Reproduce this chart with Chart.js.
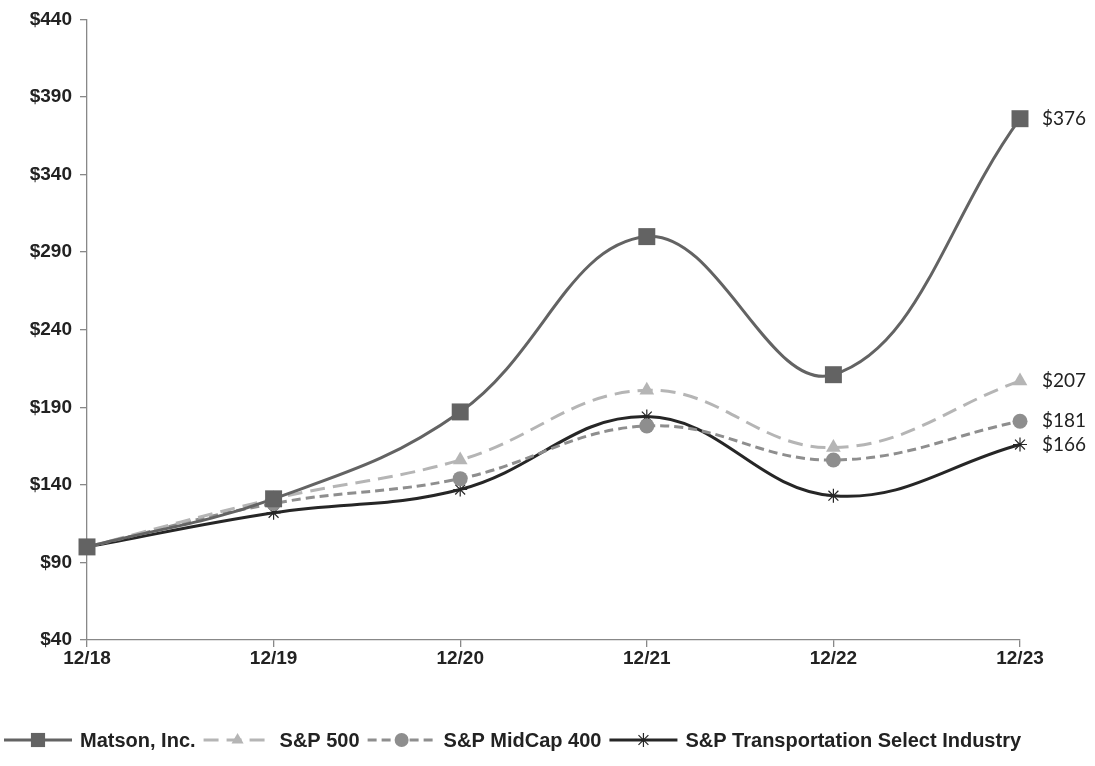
<!DOCTYPE html>
<html>
<head>
<meta charset="utf-8">
<script src="https://cdn.jsdelivr.net/npm/chart.js@4.4.1/dist/chart.umd.min.js"></script>
<style>
  html, body { margin: 0; padding: 0; background: #fff; }
  #wrap { width: 1095px; height: 766px; }
</style>
</head>
<body>
<div id="wrap"><canvas id="perf"></canvas></div>
<script>
// data
let years = ['12/18', '12/19', '12/20', '12/21', '12/22', '12/23'];
let matson = [100, 131, 187, 300, 211, 376];
let sp500 = [100, 131, 156, 201, 164, 207];
let midcap = [100, 128, 144, 178, 156, 181];
let transport = [100, 122, 137, 184, 133, 166];
let endLabels = ['$376', '$207', '$181', '$166'];

// end-of-line value labels + legend with line and marker
const extras = {
    id: 'extras',
    afterDraw(chart) {
        let ctx = chart.ctx;
        ctx.save();
        // value labels to the right of the last point
        ctx.font = '19px Lato';
        ctx.fillStyle = '#222';
        ctx.textBaseline = 'middle';
        ctx.textAlign = 'left';
        chart.data.datasets.forEach((ds, i) => {
            let meta = chart.getDatasetMeta(i);
            let pt = meta.data[meta.data.length - 1];
            ctx.fillText(endLabels[i], pt.x + 22, pt.y);
        });
        // legend
        ctx.font = 'bold 20px "Liberation Sans"';
        let x = 4, y = 740;
        chart.data.datasets.forEach((ds) => {
            ctx.save();
            ctx.strokeStyle = ds.borderColor;
            ctx.lineWidth = ds.borderWidth;
            ctx.setLineDash(ds.borderDash || []);
            ctx.beginPath();
            ctx.moveTo(x, y);
            ctx.lineTo(x + 68, y);
            ctx.stroke();
            ctx.restore();
            ctx.save();
            ctx.fillStyle = ds.backgroundColor;
            ctx.strokeStyle = ds.pointBorderColor || ds.borderColor;
            ctx.lineWidth = ds.pointBorderWidth;
            Chart.helpers.drawPoint(ctx, {
                pointStyle: ds.pointStyle,
                radius: ds.legendRadius,
                borderWidth: ds.pointBorderWidth,
                rotation: 0
            }, x + 34, y);
            ctx.restore();
            ctx.fillStyle = '#222';
            ctx.fillText(ds.label, x + 76, y + 1);
            x += 76 + ctx.measureText(ds.label).width + 8;
        });
        ctx.restore();
    }
};

let ctx = document.getElementById('perf');
let chart = new Chart(ctx, {
    type: 'line',
    data: {
        labels: years,
        datasets: [
            {
                label: 'Matson, Inc.',
                data: matson,
                borderColor: '#636363',
                backgroundColor: '#636363',
                borderWidth: 3,
                pointStyle: 'rect',
                pointRadius: 12,
                legendRadius: 10,
                pointBorderWidth: 0,
                tension: 0.4,
            },
            {
                label: 'S&P 500',
                data: sp500,
                borderColor: '#b5b5b5',
                backgroundColor: '#b5b5b5',
                borderWidth: 3,
                borderDash: [15, 8],
                pointStyle: 'triangle',
                pointRadius: 8.5,
                legendRadius: 7,
                pointBorderWidth: 0,
                tension: 0.4,
            },
            {
                label: 'S&P MidCap 400',
                data: midcap,
                borderColor: '#8e8e8e',
                backgroundColor: '#8e8e8e',
                borderWidth: 3,
                borderDash: [9, 5],
                pointStyle: 'circle',
                pointRadius: 7.5,
                legendRadius: 7,
                pointBorderWidth: 0,
                tension: 0.4,
            },
            {
                label: 'S&P Transportation Select Industry',
                data: transport,
                borderColor: '#262626',
                backgroundColor: '#262626',
                borderWidth: 3,
                pointStyle: 'star',
                pointRadius: 7,
                legendRadius: 7,
                pointBorderWidth: 1.2,
                pointBorderColor: '#262626',
                tension: 0.4,
            }
        ]
    },
    options: {
        responsive: true,
        maintainAspectRatio: false,
        animation: false,
        clip: false,
        layout: { padding: { left: 0, right: 75, top: 19, bottom: 91 } },
        plugins: {
            legend: { display: false },
            tooltip: { enabled: false },
        },
        scales: {
            x: {
                grid: { drawOnChartArea: false, color: '#888', tickLength: 7, lineWidth: 1.3 },
                border: { color: '#888', width: 1.3 },
                ticks: {
                    color: '#222',
                    font: { family: 'Liberation Sans', size: 19, weight: 'bold' },
                    maxRotation: 0,
                    padding: 0,
                },
                afterFit: (s) => { s.height = 35; },
            },
            y: {
                min: 40,
                max: 440,
                grid: { drawOnChartArea: false, color: '#888', tickLength: 7, lineWidth: 1.3 },
                border: { color: '#888', width: 1.3 },
                ticks: {
                    stepSize: 50,
                    color: '#222',
                    font: { family: 'Liberation Sans', size: 19, weight: 'bold' },
                    padding: 8,
                    callback: (v) => '$' + v,
                },
                afterFit: (s) => { s.width = 87; },
            }
        }
    },
    plugins: [extras]
});
</script>
</body>
</html>
